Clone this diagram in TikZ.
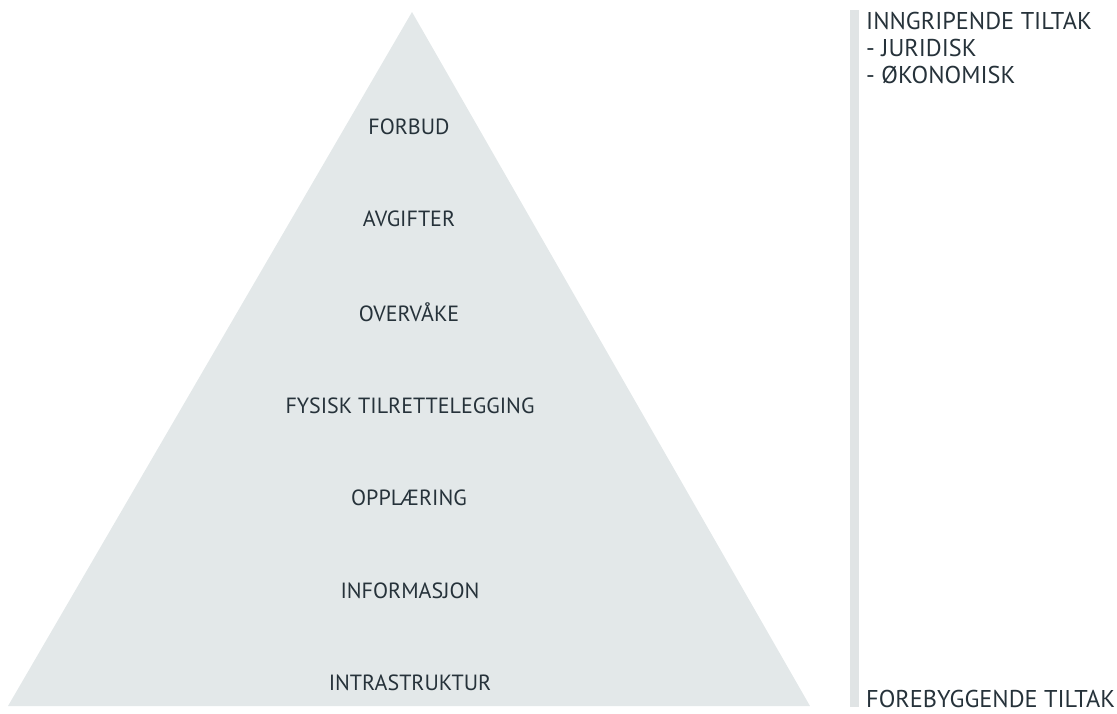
\documentclass[tikz,border=0pt]{standalone}
\usepackage{fontspec}
\setmainfont{PT Sans}
\usetikzlibrary{positioning}
\definecolor{pyrfill}{HTML}{E3E8E9}
\definecolor{barfill}{HTML}{E0E4E5}
\definecolor{txtcol}{HTML}{26323A}

\begin{document}
\begin{tikzpicture}[x=1pt,y=-1pt,
  lvl/.style={text=txtcol,font=\fontsize{22}{26}\selectfont,inner sep=0pt,anchor=center},
  side/.style={text=txtcol,font=\fontsize{24.3}{27}\selectfont,inner sep=0pt,align=left}]
		      \useasboundingbox (0,0) rectangle (1117,713);
		      \fill[pyrfill] (412,12)--(8,706)--(810,706)--cycle; %pyramide
		      \fill[barfill] (850,10) rectangle (859,707);
		      \node[lvl] (forbud) at (409,127) {FORBUD};
		      \node[lvl] (avgift) at (409,219) {AVGIFTER};
		      \node[lvl] (overvaak) at (409,312) {OVERVÅKE};
		      \node[lvl] (fysisk) at (410,406) {FYSISK TILRETTELEGGING};
		      \node[lvl] (opplaer) at (409,498) {OPPLÆRING};
		      \node[lvl] (info) at (410,591) {INFORMASJON};
		      \node[lvl] (infra) at (410,683) {INTRASTRUKTUR};
		      \node[side,anchor=north west] (inngrip) at (866,12) {INNGRIPENDE TILTAK\\- JURIDISK\\- ØKONOMISK};
		      \node[side,anchor=west] (forebygg) at (866,699) {FOREBYGGENDE TILTAK};
	      \end{tikzpicture}
\end{document}
